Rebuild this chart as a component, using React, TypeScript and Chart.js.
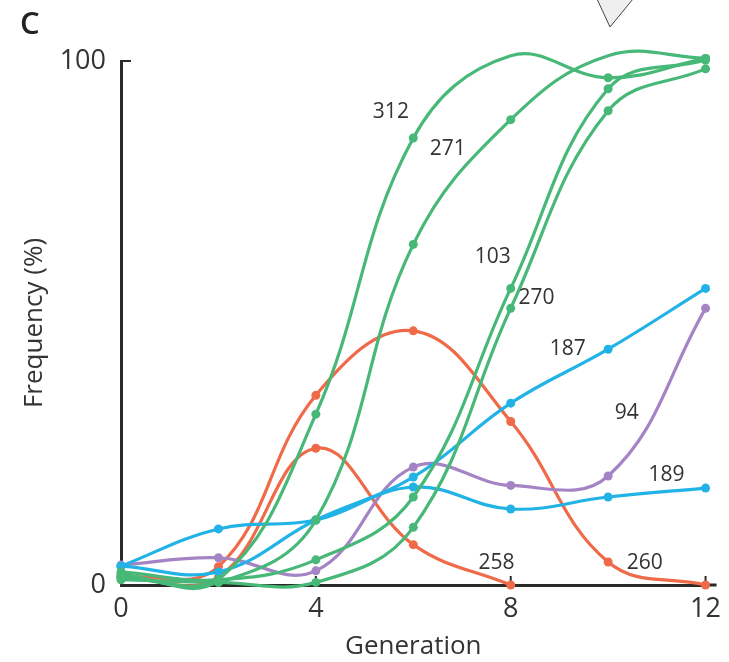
import React, { useEffect, useRef } from "react";
import { Chart, registerables } from "chart.js";

Chart.register(...registerables);

// ---- data ----
const generations = [0, 2, 4, 6, 8, 10, 12];

const line312 = [2, 1, 32.6, 85.3, 101, 96.8, 100.5];
const line271 = [1.5, 0.5, 12.4, 65, 88.8, 101, 100.5];
const line103 = [2.5, 1, 4.8, 16.8, 56.6, 94.7, 100.2];
const line270 = [1, 0.5, 0.5, 11, 52.8, 90.5, 98.5];

const line187 = [3.6, 2.5, 12.4, 20.6, 34.7, 45, 56.6];
const line189 = [3.6, 10.7, 12.4, 18.7, 14.5, 16.8, 18.5];

const line94 = [3.8, 5.2, 2.7, 22.5, 19, 20.8, 52.8];

const line258 = [1.5, 1.5, 26.1, 7.7, 0, null, null];
const line260 = [1.5, 3.5, 36.2, 48.5, 31.2, 4.4, 0];

const xTicks = [0, 4, 8, 12];
const yTicks = [0, 100];

const lineLabels = [
  { text: "312", x: 5.54, y: 90.3 },
  { text: "271", x: 6.71, y: 83.2 },
  { text: "103", x: 7.63, y: 62.6 },
  { text: "270", x: 8.53, y: 54.8 },
  { text: "187", x: 9.17, y: 45.0 },
  { text: "94", x: 10.38, y: 32.8 },
  { text: "189", x: 11.2, y: 21.0 },
  { text: "258", x: 7.71, y: 4.2 },
  { text: "260", x: 10.75, y: 4.2 },
];

const GREEN = "#47b877";
const BLUE = "#22b3e6";
const PURPLE = "#a584c6";
const ORANGE = "#ef6a48";
const TEXT = "#333333";
const AXIS = "#2a2a2a";
const FONT = "'Open Sans', 'Noto Sans', sans-serif";

const series = [
  { name: "312", data: line312, color: GREEN },
  { name: "271", data: line271, color: GREEN },
  { name: "103", data: line103, color: GREEN },
  { name: "270", data: line270, color: GREEN },
  { name: "187", data: line187, color: BLUE },
  { name: "189", data: line189, color: BLUE },
  { name: "94", data: line94, color: PURPLE },
  { name: "258", data: line258, color: ORANGE },
  { name: "260", data: line260, color: ORANGE },
];

const axisDecor = {
  id: "axisDecor",
  beforeDatasetsDraw(chart: any) {
    const { ctx, chartArea, scales } = chart;
    const xs = scales.x;
    const ys = scales.y;
    ctx.save();
    ctx.strokeStyle = AXIS;
    ctx.lineWidth = 2;
    xTicks.forEach((v) => {
      const px = xs.getPixelForValue(v);
      ctx.beginPath();
      ctx.moveTo(px, chartArea.bottom);
      ctx.lineTo(px, chartArea.bottom - 9);
      ctx.stroke();
    });
    const py = ys.getPixelForValue(yTicks[yTicks.length - 1]);
    ctx.beginPath();
    ctx.moveTo(chartArea.left, py);
    ctx.lineTo(chartArea.left + 10, py);
    ctx.stroke();
    ctx.lineWidth = 3;
    ctx.beginPath();
    ctx.moveTo(chartArea.right - 2, chartArea.bottom);
    ctx.lineTo(chartArea.right + 11, chartArea.bottom);
    ctx.stroke();
    ctx.restore();
  },
  afterDatasetsDraw(chart: any) {
    const { ctx, scales } = chart;
    ctx.save();
    ctx.fillStyle = TEXT;
    ctx.font = `21px ${FONT}`;
    ctx.textAlign = "center";
    ctx.textBaseline = "middle";
    lineLabels.forEach((l) => {
      ctx.fillText(l.text, scales.x.getPixelForValue(l.x), scales.y.getPixelForValue(l.y));
    });
    ctx.restore();
  },
};

export default function App() {
  const ref = useRef<HTMLCanvasElement | null>(null);

  useEffect(() => {
    if (!ref.current) return;
    const chart = new Chart(ref.current, {
      type: "line",
      data: {
        datasets: series.map((s) => ({
          label: s.name,
          data: generations.map((g, i) => ({ x: g, y: s.data[i] })),
          borderColor: s.color,
          backgroundColor: s.color,
          pointBackgroundColor: s.color,
          pointBorderWidth: 0,
          pointRadius: 4.5,
          borderWidth: 3.2,
          tension: 0.4,
          fill: false,
          clip: false as any,
          spanGaps: false,
        })),
      },
      options: {
        animation: false,
        responsive: true,
        maintainAspectRatio: false,
        layout: { padding: { left: 0, right: 23, top: 61, bottom: 0 } },
        elements: { line: { capBezierPoints: false } },
        plugins: {
          legend: { display: false },
          tooltip: { enabled: false },
        },
        scales: {
          x: {
            type: "linear",
            min: 0,
            max: 12,
            afterBuildTicks: (s: any) => {
              s.ticks = xTicks.map((v) => ({ value: v }));
            },
            afterFit: (s: any) => {
              s.height = 77;
            },
            grid: { display: false, drawTicks: false },
            border: { display: true, color: AXIS, width: 3 },
            ticks: {
              color: TEXT,
              font: { family: FONT, size: 27 },
              padding: 8,
              maxRotation: 0,
              autoSkip: false,
            },
            title: {
              display: true,
              text: "Generation",
              color: TEXT,
              font: { family: FONT, size: 26 },
              padding: { top: 0, bottom: 0 },
            },
          },
          y: {
            type: "linear",
            min: 0,
            max: 100,
            afterBuildTicks: (s: any) => {
              s.ticks = yTicks.map((v) => ({ value: v }));
            },
            afterFit: (s: any) => {
              s.width = 121;
            },
            grid: { display: false, drawTicks: false },
            border: { display: true, color: AXIS, width: 3 },
            ticks: {
              color: TEXT,
              font: { family: FONT, size: 27 },
              padding: 15,
              autoSkip: false,
            },
            title: {
              display: true,
              text: "Frequency (%)",
              color: TEXT,
              font: { family: FONT, size: 26 },
              padding: { top: 19, bottom: 0 },
            },
          },
        },
      },
      plugins: [axisDecor],
    });
    return () => chart.destroy();
  }, []);

  return (
    <div style={{ position: "fixed", left: 0, top: 0, width: 729, height: 662, background: "#fff" }}>
      <canvas ref={ref} />
      <div
        style={{
          position: "absolute",
          left: 20,
          top: 7,
          fontFamily: FONT,
          fontWeight: 600,
          fontSize: 31,
          lineHeight: "31px",
          color: "#222",
        }}
      >
        C
      </div>
      <svg
        width={729}
        height={40}
        style={{ position: "absolute", left: 0, top: 0, pointerEvents: "none" }}
      >
        <polygon points="597,-1 633,-1 610,27" fill="#efefef" stroke="#444" strokeWidth={1} />
      </svg>
    </div>
  );
}
